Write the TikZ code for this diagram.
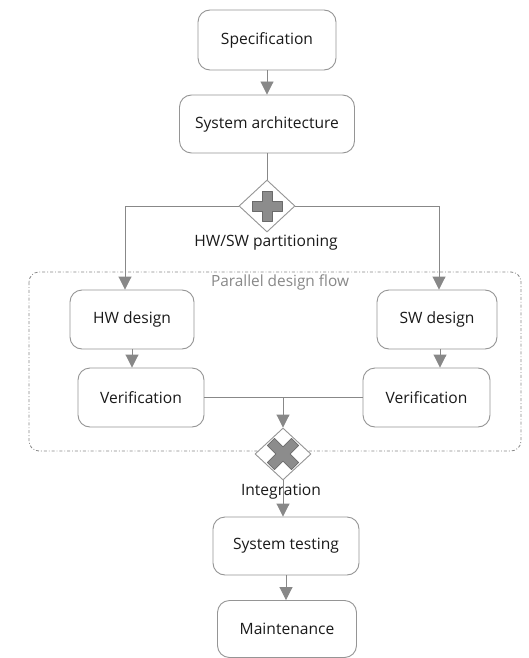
\documentclass[tikz,border=0pt]{standalone}
\usepackage{fontspec}
\setmainfont{Open Sans}
\usetikzlibrary{arrows.meta,shapes.geometric}
\definecolor{edge}{HTML}{959595}
\definecolor{flow}{HTML}{888888}
\definecolor{ink}{HTML}{1A1A1A}
\definecolor{mark}{HTML}{8C8C8C}
\definecolor{markline}{HTML}{6A6A6A}
\tikzset{
  task/.style={draw=edge, line width=0.9pt, rounded corners=12pt, fill=white,
    text=ink, font=\fontsize{15.6}{18}\selectfont, inner sep=0pt},
  gateway/.style={diamond, draw=edge, line width=0.9pt, fill=white,
    minimum width=56pt, minimum height=52pt, inner sep=0pt},
  flowline/.style={draw=flow, line width=0.9pt},
  flowarrow/.style={flowline, -{Triangle[length=13pt,width=13pt]}},
  caption/.style={text=ink, font=\fontsize{15.6}{18}\selectfont},
  groupbox/.style={draw=flow, line width=0.8pt, dash dot, rounded corners=10pt},
  crossmark/.style={fill=mark, draw=markline, line width=0.7pt, line join=round},
}
\begin{document}
\begin{tikzpicture}[x=1pt, y=-1pt]
\useasboundingbox[fill=white] (0,0) rectangle (528,658);

% parallel design group
\draw[groupbox] (29,272) rectangle (521,451);
\node[text=flow, font=\fontsize{15.4}{18}\selectfont] (grouplabel) at (280,282) {Parallel design flow};

% tasks
\node[task, minimum width=138pt, minimum height=60pt] (spec) at (267,40) {Specification};
\node[task, minimum width=175pt, minimum height=58pt] (arch) at (267,124) {System architecture};
\node[task, minimum width=124pt, minimum height=59pt] (hwd) at (132,319.5) {HW design};
\node[task, minimum width=126pt, minimum height=59pt] (hwv) at (141,397.5) {Verification};
\node[task, minimum width=120pt, minimum height=59pt] (swd) at (437,319.5) {SW design};
\node[task, minimum width=127pt, minimum height=59pt] (swv) at (426.5,397.5) {Verification};
\node[task, minimum width=146pt, minimum height=58pt] (test) at (286,546) {System testing};
\node[task, minimum width=139pt, minimum height=57pt] (maint) at (287,629) {Maintenance};

% gateways
\node[gateway] (split) at (267,206) {};
\node[gateway] (join) at (283,454) {};
\node[caption] (splitlabel) at (266,243) {HW/SW partitioning};
\node[caption] (joinlabel) at (281,492) {Integration};

% parallel split marker (plus)
\draw[crossmark] ([shift={(-5,-15)}]split.center) -- ++(10,0) -- ++(0,10) -- ++(10,0)
  -- ++(0,10) -- ++(-10,0) -- ++(0,10) -- ++(-10,0) -- ++(0,-10) -- ++(-10,0)
  -- ++(0,-10) -- ++(10,0) -- cycle;

% exclusive join marker (x)
\draw[crossmark, rotate around={45:(join.center)}] ([shift={(-5,-17)}]join.center)
  -- ++(10,0) -- ++(0,12) -- ++(12,0) -- ++(0,10) -- ++(-12,0) -- ++(0,12)
  -- ++(-10,0) -- ++(0,-12) -- ++(-12,0) -- ++(0,-10) -- ++(12,0) -- cycle;

% sequence flows
\draw[flowarrow] (spec.south) -- (arch.north);
\draw[flowline] (arch.south) -- (split.north);
\draw[flowarrow] (split.west) -| ([xshift=-7pt]hwd.north);
\draw[flowarrow] (split.east) -| ([xshift=2pt]swd.north);
\draw[flowarrow] (hwd.south) -- (hwd.south |- hwv.north);
\draw[flowarrow] ([xshift=3pt]swd.south) -- ([xshift=3pt]swd.south |- swv.north);
\draw[flowline] (hwv.east) -- (swv.west);
\coordinate (merge) at (join.north |- hwv.east);
\draw[flowarrow] (merge) -- (join.north);
\draw[flowarrow] (join.south) -- (join.south |- test.north);
\draw[flowarrow] (test.south) -- (test.south |- maint.north);
\end{tikzpicture}
\end{document}
